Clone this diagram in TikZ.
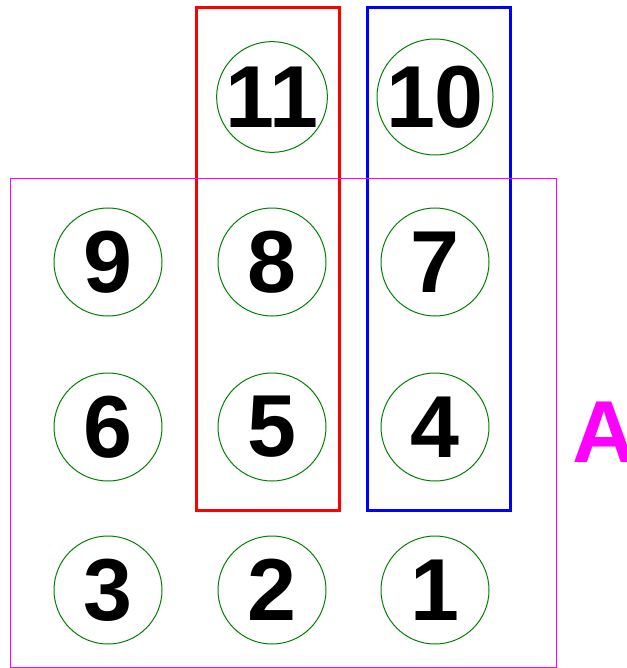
\documentclass[tikz,border=0pt]{standalone}
\usepackage{fontspec}
\setmainfont{Liberation Sans}
\usepackage{tikz}
\definecolor{pinmag}{RGB}{255,0,255}
\definecolor{pingreen}{RGB}{0,128,0}
\begin{document}
\begin{tikzpicture}[x=1pt,y=-1pt,
  pin/.style={circle,draw=pingreen,line width=1pt,minimum size=108pt,inner sep=0pt,
    font=\fontsize{88}{88}\bfseries\selectfont},
  group/.style={line width=3pt}]
\useasboundingbox (0,0) rectangle (626,668);
\foreach \n/\x/\y in {11/272/97,10/435/97,9/108/262,8/272/262,7/435/262,
  6/108/427,5/272/427,4/435/427,3/108/590,2/272/590,1/435/590}
  \node[pin] (c\n) at (\x,\y) {\n};
%%
\draw[group,red](196,8) rectangle (339,510);
\draw[group,blue](367,8) rectangle (510,510);
\draw[pinmag,line width=1pt](10,179) rectangle (556,667);
\node[anchor=base west,inner sep=0pt,pinmag,font=\fontsize{88}{88}\bfseries\selectfont] (lblA) at (572,462) {A};
\end{tikzpicture}
\end{document}
